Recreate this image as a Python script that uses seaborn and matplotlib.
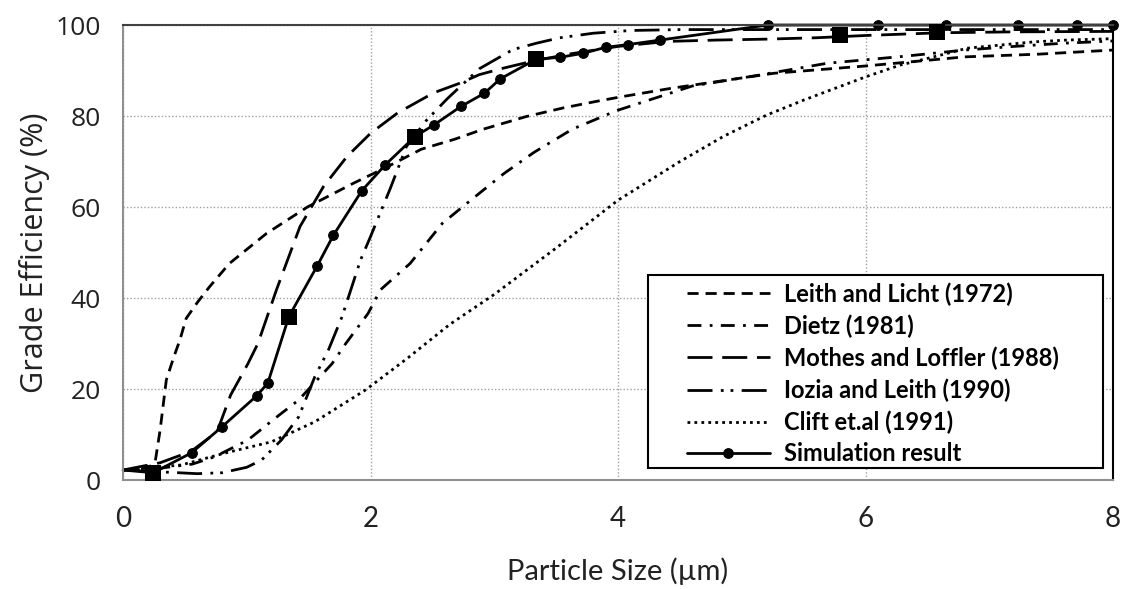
import seaborn as sns
import matplotlib.pyplot as plt
from matplotlib.patches import Rectangle

# values (particle size in um, efficiency in %)
leith_x = [0, 0.20, 0.26, 0.30, 0.35, 0.41, 0.46, 0.51, 0.60, 0.70, 0.86, 1.16, 1.49, 1.86,
           2.14, 2.41, 2.68, 2.91, 3.26, 3.56, 3.84, 4.02, 4.43, 5.26, 6.0, 6.8, 7.4, 8.0]
leith_y = [2.2, 2.6, 4.0, 11.0, 22.0, 27.0, 30.8, 35.5, 39.0, 42.5, 47.6, 54.2, 60.0, 65.2,
           68.9, 72.7, 74.9, 77.1, 79.9, 81.8, 83.3, 84.2, 86.1, 89.4, 91.0, 93.0, 93.6, 94.5]

dietz_x = [0, 0.3, 0.56, 0.74, 1.01, 1.23, 1.42, 1.69, 1.80, 1.98, 2.08, 2.32, 2.58, 2.81,
           3.08, 3.32, 3.63, 3.99, 4.6, 5.12, 5.69, 6.3, 6.8, 7.2, 7.6, 8.0]
dietz_y = [2.2, 2.6, 3.5, 5.1, 8.8, 13.6, 17.6, 25.6, 30.0, 36.6, 41.8, 47.6, 56.4, 61.5,
           67.4, 72.0, 77.1, 81.2, 86.6, 88.9, 91.6, 93.1, 94.5, 95.3, 96.0, 96.5]

mothes_x = [0, 0.3, 0.55, 0.76, 0.87, 1.01, 1.09, 1.24, 1.43, 1.62, 1.81, 2.0, 2.22, 2.51,
            2.72, 2.88, 3.07, 3.3, 3.6, 4.0, 4.4, 4.8, 5.2, 5.6, 6.0, 6.6, 7.2, 8.0]
mothes_y = [2.2, 3.8, 6.3, 10.6, 18.7, 25.6, 30.0, 41.8, 55.7, 64.5, 71.1, 76.2, 80.7, 85.1,
            87.2, 89.1, 90.5, 92.0, 93.6, 95.3, 96.4, 96.7, 96.9, 97.2, 97.7, 98.3, 98.5, 98.6]

iozia_x = [0, 0.3, 0.6, 0.8, 1.0, 1.12, 1.28, 1.42, 1.55, 1.66, 1.77, 1.92, 2.0, 2.16,
           2.29, 2.45, 2.62, 2.88, 3.15, 3.34, 3.53, 3.8, 4.1, 4.5, 5.0, 6.0, 7.0, 8.0]
iozia_y = [2.2, 1.8, 1.4, 1.6, 2.8, 4.4, 8.8, 13.9, 22.7, 28.6, 35.9, 48.4, 53.5, 64.1,
           73.3, 79.0, 83.8, 90.4, 94.6, 96.0, 97.2, 98.2, 98.8, 99.0, 99.0, 99.0, 99.0, 99.0]

clift_x = [0, 0.47, 0.82, 1.2, 1.55, 1.96, 2.3, 2.64, 3.0, 3.5, 4.0, 4.5, 4.85, 5.2,
           5.5, 6.0, 6.28, 6.55, 6.82, 7.09, 7.36, 7.63, 8.0]
clift_y = [2.2, 3.3, 5.9, 8.4, 12.8, 19.8, 26.8, 34.2, 40.8, 51.0, 61.5, 70.0, 75.5, 80.2,
           83.5, 88.6, 91.2, 93.0, 94.9, 95.6, 96.3, 96.7, 97.0]

sim_x = [0, 0.245, 0.555, 0.80, 1.08, 1.17, 1.34, 1.57, 1.70, 1.93, 2.12, 2.36, 2.51, 2.73,
         2.92, 3.05, 3.34, 3.53, 3.72, 3.90, 4.08, 4.34, 5.21, 6.10, 6.65, 7.23, 7.71, 8.0]
sim_y = [2.2, 1.6, 6.0, 11.7, 18.5, 21.3, 35.9, 47.1, 53.8, 63.6, 69.3, 75.5, 78.0, 82.1,
         85.0, 88.2, 92.5, 92.9, 93.8, 95.1, 95.7, 96.7, 100, 100, 100, 100, 100, 100]

# the big square markers (no legend entry)
square_x = [0.245, 1.34, 2.36, 3.34, 5.79, 6.58]
square_y = [1.6, 35.9, 75.5, 92.5, 97.8, 98.5]

sns.set_style("white")
plt.rcParams['font.family'] = ['Open Sans', 'DejaVu Sans']
plt.rcParams['text.color'] = '#222222'
narrow = ['Lato', 'DejaVu Sans']

fig = plt.figure(figsize=(11.41, 5.89), dpi=100)
ax = fig.add_axes([0.1078, 0.185, 0.8677, 0.7725])

curves = [
    ("Leith and Licht (1972)", leith_x, leith_y, (0, (4, 2.5))),
    ("Dietz (1981)", dietz_x, dietz_y, (0, (5, 3, 1, 3))),
    ("Mothes and Loffler (1988)", mothes_x, mothes_y, (0, (9, 3.5))),
    ("Iozia and Leith (1990)", iozia_x, iozia_y, (0, (9, 3, 1, 2.5, 1, 3))),
    ("Clift et.al (1991)", clift_x, clift_y, (0, (1, 1.5))),
]
for label, xs, ys, ls in curves:
    sns.lineplot(x=xs, y=ys, ax=ax, color="black", lw=2.0, linestyle=ls, label=label)

sns.lineplot(x=sim_x, y=sim_y, ax=ax, color="black", lw=2.0, marker="o", markersize=7,
             mec="black", markevery=slice(1, None), clip_on=False, label="Simulation result")
sns.scatterplot(x=square_x, y=square_y, ax=ax, marker="s", s=130, color="black",
                linewidth=0, legend=False, zorder=5, clip_on=False)

ax.set_xlim(0, 8)
ax.set_ylim(0, 100)
ax.set_xticks([0, 2, 4, 6, 8])
ax.set_yticks([0, 20, 40, 60, 80, 100])
ax.set_axisbelow(True)
ax.grid(True, color="#a0a0a0", linestyle=(0, (1, 1.5)), linewidth=1)

for side in ["left", "bottom"]:
    ax.spines[side].set_color("#909090")
    ax.spines[side].set_linewidth(1.5)
ax.spines["top"].set_color("#404040")
ax.spines["top"].set_linewidth(1.5)
ax.spines["right"].set_color("black")
ax.spines["right"].set_linewidth(1.5)

ax.tick_params(axis="both", direction="out", length=8, width=1.3, color="#909090",
               labelcolor="#222222")
ax.tick_params(axis="y", labelsize=19, pad=8)
ax.tick_params(axis="x", labelsize=20, pad=11)
for t in ax.get_xticklabels():
    t.set_family(narrow)

ax.set_xlabel("Particle Size (\u00b5m)", fontsize=21, family=narrow, labelpad=18, color="#222222")
ax.set_ylabel("Grade Efficiency (%)", fontsize=22, labelpad=4, color="#222222")

# legend frame drawn separately so the entries can sit inside a wider box
ax.add_patch(Rectangle((0.530, 0.0264), 0.460, 0.4241, transform=ax.transAxes,
                       facecolor="white", edgecolor="black", linewidth=1.5, zorder=6))
leg = ax.legend(loc="upper left", bbox_to_anchor=(0.5626, 0.4505), borderaxespad=0,
                frameon=False, handlelength=3.5, handletextpad=0.6, borderpad=0.3,
                labelspacing=0.36, prop={"family": narrow, "size": 17, "weight": "bold"})
leg.set_zorder(7)
for t in leg.get_texts():
    t.set_color("black")

fig.savefig("out.png", dpi=100)
